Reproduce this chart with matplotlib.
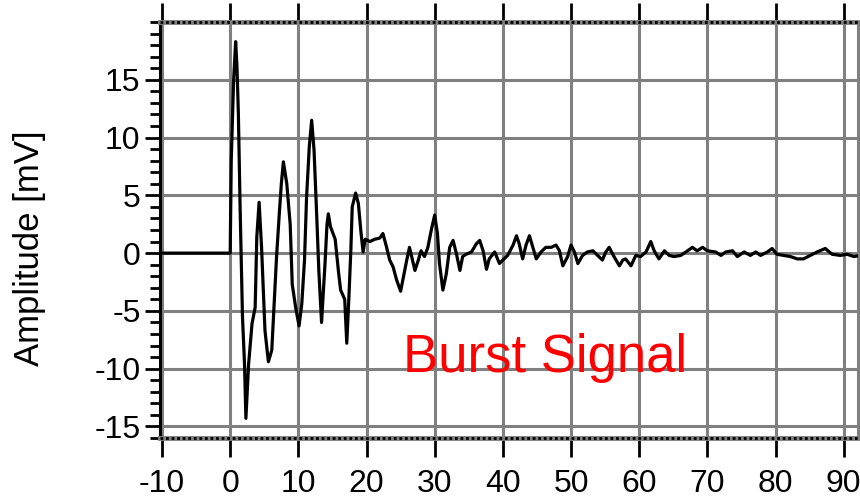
import matplotlib
matplotlib.use('Agg')
import matplotlib.pyplot as plt
from matplotlib.ticker import MultipleLocator

# burst signal trace (time, amplitude in mV)
t = [-10.5, 0.0, 0.15, 0.5, 0.8, 1.0, 1.2, 1.45, 1.8, 2.1, 2.3,
     2.7, 3.2, 3.66, 3.9, 4.24, 4.6, 4.9, 5.1, 5.6, 6.1, 6.3, 6.8,
     7.2, 7.5, 7.8, 8.3, 8.8, 9.1, 9.6, 10.1, 10.5, 10.9, 11.2, 11.6,
     11.95, 12.3, 12.7, 13.0, 13.4, 13.9, 14.2, 14.4, 14.7, 15.4, 15.9,
     16.2, 16.8, 17.1, 17.4, 17.7, 17.9, 18.4, 18.8, 19.2, 19.5, 19.8,
     20.5, 21.2, 21.95, 22.4, 22.9, 23.4, 23.9, 24.4, 25.0, 25.9, 26.3,
     27.1, 27.6, 28.0, 28.5, 29.0, 29.5, 30.0, 30.4, 30.7, 31.2, 31.7,
     32.2, 32.7, 33.2, 33.7, 34.1, 34.6, 35.4, 36.1, 36.6, 37.1, 37.6,
     38.0, 38.8, 39.5, 40.0, 40.7, 41.5, 42.0, 42.4, 42.9, 43.4, 43.9,
     44.4, 44.9, 45.6, 46.3, 47.1, 47.8, 48.3, 48.8, 49.5, 50.0, 50.5,
     51.0, 51.7, 52.4, 53.2, 53.9, 54.6, 55.1, 55.6, 56.3, 57.1, 57.6,
     58.0, 58.8, 59.5, 60.2, 61.0, 61.7, 62.2, 62.9, 63.7, 64.4, 65.1,
     66.1, 67.1, 67.8, 68.5, 69.3, 70.0, 71.2, 72.0, 72.7, 73.7, 74.4,
     75.4, 76.3, 77.1, 77.8, 78.8, 79.5, 80.2, 81.2, 82.2, 83.2, 84.1,
     85.1, 86.1, 87.3, 88.3, 89.5, 90.5, 91.5, 92.4]
amp = [0.0, 0.0, 8.0, 15.0, 18.3, 16.0, 12.0, 4.0, -5.5, -9.6, -14.3,
       -9.6, -6.1, -4.7, 1.4, 4.4, 0.5, -3.8, -6.7, -9.4, -8.4, -6.1, -0.3,
       3.4, 6.0, 7.9, 6.0, 2.5, -2.7, -4.7, -6.3, -4.4, -0.6, 4.8, 9.2,
       11.5, 8.9, 3.1, -1.5, -6.0, -1.0, 2.5, 3.4, 2.3, 1.2, -1.7,
       -3.2, -4.0, -7.8, -4.0, 0.3, 4.0, 5.2, 4.3, 1.7, 0.1, 1.2,
       1.0, 1.2, 1.3, 1.7, 0.6, -0.6, -1.2, -2.3, -3.3, -0.6, 0.5,
       -1.5, -0.6, 0.2, -0.3, 0.5, 2.0, 3.3, 1.7, -0.9, -3.2, -1.8,
       0.5, 1.1, -0.1, -1.5, -0.3, -0.1, 0.1, 0.8, 1.1, 0.2, -1.4,
       -0.5, 0.1, -0.9, -0.6, -0.2, 0.7, 1.5, 0.8, -0.5, 0.7, 1.5,
       0.5, -0.5, 0.1, 0.5, 0.5, 0.7, 0.2, -1.1, -0.3, 0.7, 0.1,
       -0.9, -0.2, 0.1, 0.2, -0.2, -0.6, 0.1, 0.5, -0.3, -1.1, -0.6,
       -0.5, -1.1, -0.2, -0.3, 0.1, 1.0, 0.2, -0.5, 0.2, -0.2, -0.3,
       -0.2, 0.2, 0.5, 0.2, 0.5, 0.2, 0.1, -0.2, 0.1, 0.2, -0.3,
       0.1, -0.2, 0.1, -0.2, 0.1, 0.4, -0.1, -0.2, -0.3, -0.5, -0.5,
       -0.2, 0.1, 0.4, -0.1, -0.2, -0.1, -0.3, -0.2]

xticks = list(range(-10, 91, 10))
yticks = list(range(-15, 16, 5))

plt.rcParams['font.family'] = ['Liberation Sans', 'DejaVu Sans']
plt.rcParams['axes.unicode_minus'] = False

fig = plt.figure(figsize=(8.6, 4.98), dpi=100)
ax = fig.add_axes([160/860, 1-438/498, 698/860, 416/498])

ax.plot(t, amp, color='black', lw=2.3, zorder=3)
ax.set_xlim(-10.3, 92.1)
ax.set_ylim(-16, 20)
ax.set_xticks(xticks)
ax.set_yticks(yticks)
ax.yaxis.set_minor_locator(MultipleLocator(1))
ax.grid(True, which='major', color='#808080', lw=2.2)
ax.set_axisbelow(True)

ax.tick_params(axis='x', which='major', direction='out', top=True, bottom=True,
               length=14, width=2, labelsize=23, pad=8, color='black')
ax.tick_params(axis='y', which='major', direction='out', left=True, right=False,
               length=11, width=2, labelsize=23, pad=3)
ax.tick_params(axis='y', which='minor', direction='out', left=True, right=False,
               length=7, width=2)

ax.spines['left'].set_color('black')
ax.spines['left'].set_linewidth(2.2)
ax.spines['right'].set_color('#808080')
ax.spines['right'].set_linewidth(2.2)
for side in ['top', 'bottom']:
    ax.spines[side].set_color('#808080')
    ax.spines[side].set_linewidth(3.5)
    yy = 1 if side == 'top' else 0
    ax.plot([0, 1], [yy, yy], transform=ax.transAxes, color='black',
            lw=2.0, ls=(0, (1, 1)), clip_on=False, zorder=5)

fig.text(30/860, 1-248/498, 'Amplitude [mV]', rotation=90, ha='center', va='center',
         fontsize=25)

ax.text(25.4, -10.3, 'Burst Signal', color='#ff0000', fontsize=38,
        ha='left', va='baseline', zorder=4)

fig.savefig('out.png', dpi=100)
